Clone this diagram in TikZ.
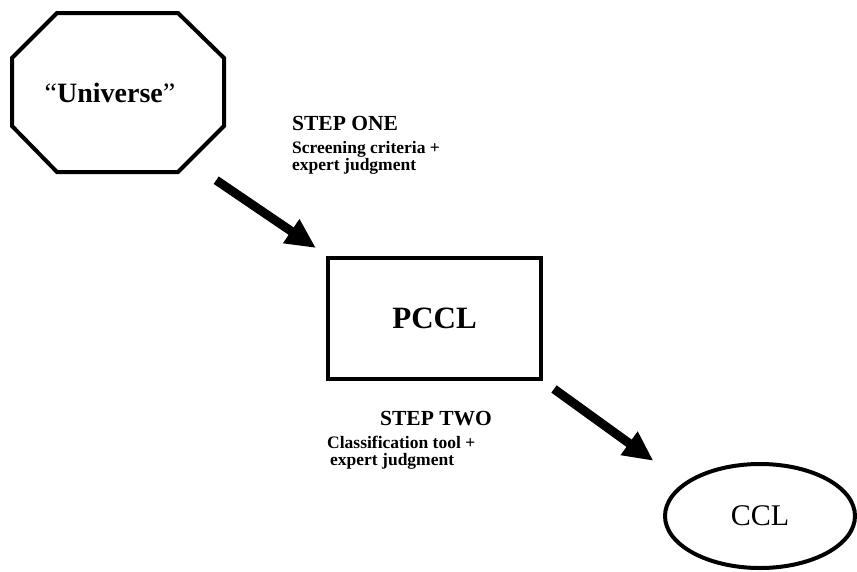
\documentclass[tikz,border=0pt]{standalone}
\usepackage{fontspec}
\setmainfont{Liberation Serif}
\usetikzlibrary{arrows.meta,shapes.geometric}

\tikzset{
    shapeline/.style={line width=4pt, black},
    bigarrow/.style={line width=9pt, -{Triangle[length=30pt,width=27pt]}},
    steptitle/.style={anchor=base west, inner sep=0pt, font=\bfseries\fontsize{21.5}{24}\selectfont},
    steptext/.style={anchor=base west, inner sep=0pt, font=\bfseries\fontsize{17.5}{16}\selectfont}
}

\begin{document}
\begin{tikzpicture}[x=1pt, y=-1pt]
    \useasboundingbox (0,0) rectangle (857,571);
    % octagon "Universe"
    \draw[shapeline] (57,13) -- (178,13) -- (224,58) -- (224,126) -- (178,172)
        -- (57,172) -- (12,126) -- (12,58) -- cycle;
    \node[minimum width=212pt, minimum height=159pt, inner sep=0pt] (universe) at (110,92.5)
        {\fontsize{28}{30}\selectfont “\textbf{Universe}”};
    % boxes
    \node[draw, shapeline, minimum width=213pt, minimum height=121pt, inner sep=0pt] (pccl) at (434.5,318.5)
        {\bfseries\fontsize{31}{34}\selectfont PCCL};
    \node[draw, shapeline, ellipse, minimum width=190pt, minimum height=104pt, inner sep=0pt] (ccl) at (760,516)
        {\fontsize{30}{34}\selectfont CCL};
    % step labels
    \node[steptitle] (oneTitle) at (292,130) {STEP ONE};
    \node[steptext] (oneLineA) at (292,153) {Screening criteria +};
    \node[steptext] (oneLineB) at (292,170) {expert judgment};
    \node[steptitle] (twoTitle) at (380,425) {STEP TWO};
    \node[steptext] (twoLineA) at (327,448) {Classification tool +};
    \node[steptext] (twoLineB) at (330,465) {expert judgment};
    % arrows
    \draw[bigarrow] ([shift={(0,8)}]universe.south east) -- ([shift={(-10,-8)}]pccl.north west);
    \draw[bigarrow] ([shift={(11,8)}]pccl.south east) -- ([shift={(-38,-17)}]ccl.north west);
\end{tikzpicture}
\end{document}
